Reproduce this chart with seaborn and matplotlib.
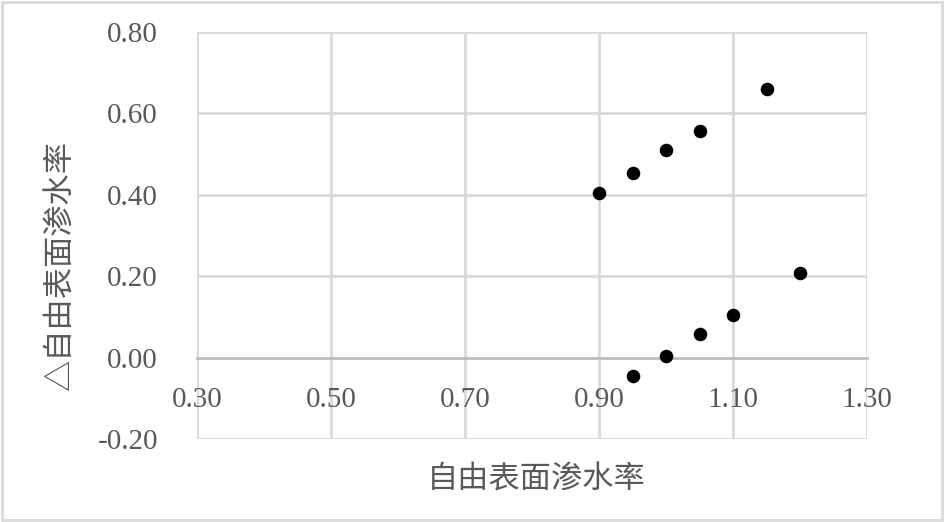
import matplotlib
matplotlib.use("Agg")
import matplotlib.pyplot as plt
import seaborn as sns
import pandas as pd
from matplotlib.patches import Rectangle

# valores
x_vals = [0.90, 0.95, 1.00, 1.05, 1.15, 1.20, 1.10, 1.05, 1.00, 0.95]
y_vals = [0.405, 0.453, 0.51, 0.556, 0.66, 0.209, 0.104, 0.058, 0.003, -0.044]
x_ticks = [0.30, 0.50, 0.70, 0.90, 1.10, 1.30]
y_ticks = [-0.20, 0.00, 0.20, 0.40, 0.60, 0.80]
x_label = "自由表面渗水率"
y_label = "△自由表面渗水率"

df = pd.DataFrame({"x": x_vals, "y": y_vals})

sns.set_theme(style="white")
plt.rcParams['font.family'] = ['Noto Sans CJK SC', 'DejaVu Sans']

fig = plt.figure(figsize=(9.44, 5.22), dpi=100)
ax = fig.add_axes([0.2087, 0.159, 0.71, 0.7797])

sns.scatterplot(data=df, x="x", y="y", ax=ax, color="black", s=95,
                edgecolor="black", linewidth=0, zorder=5)

ax.set_xlim(0.30, 1.30)
ax.set_ylim(-0.20, 0.80)
ax.set_xticks(x_ticks)
ax.set_yticks(y_ticks)
ax.set_xticklabels([f"{v:.2f}" for v in x_ticks])
ax.set_yticklabels([f"{v:.2f}" for v in y_ticks])

ax.grid(True, color="#d9d9d9", linewidth=2)
ax.set_axisbelow(True)
for s in ["top", "right", "left"]:
    ax.spines[s].set_visible(False)
ax.spines["bottom"].set_position(("data", 0))
ax.spines["bottom"].set_color("#bfbfbf")
ax.spines["bottom"].set_linewidth(2)
ax.spines["bottom"].set_zorder(3)

ax.tick_params(axis="x", length=0, pad=21, labelsize=21, labelcolor="#595959")
ax.tick_params(axis="y", length=0, pad=28, labelsize=21, labelcolor="#595959")
for lab in ax.get_xticklabels() + ax.get_yticklabels():
    lab.set_fontfamily(["Liberation Serif", "DejaVu Serif"])

ax.set_xlabel("")
ax.set_ylabel("")
fig.text(0.568, 0.082, x_label, ha="center", va="center", fontsize=22.5, color="#595959")
fig.text(0.064, 0.49, y_label, ha="center", va="center", fontsize=22.5,
         color="#595959", rotation=90)

fig.patches.append(Rectangle((0.002, 0.003), 0.996, 0.994, transform=fig.transFigure,
                             fill=False, edgecolor="#d9d9d9", linewidth=2))

fig.savefig("out.png", dpi=100)
